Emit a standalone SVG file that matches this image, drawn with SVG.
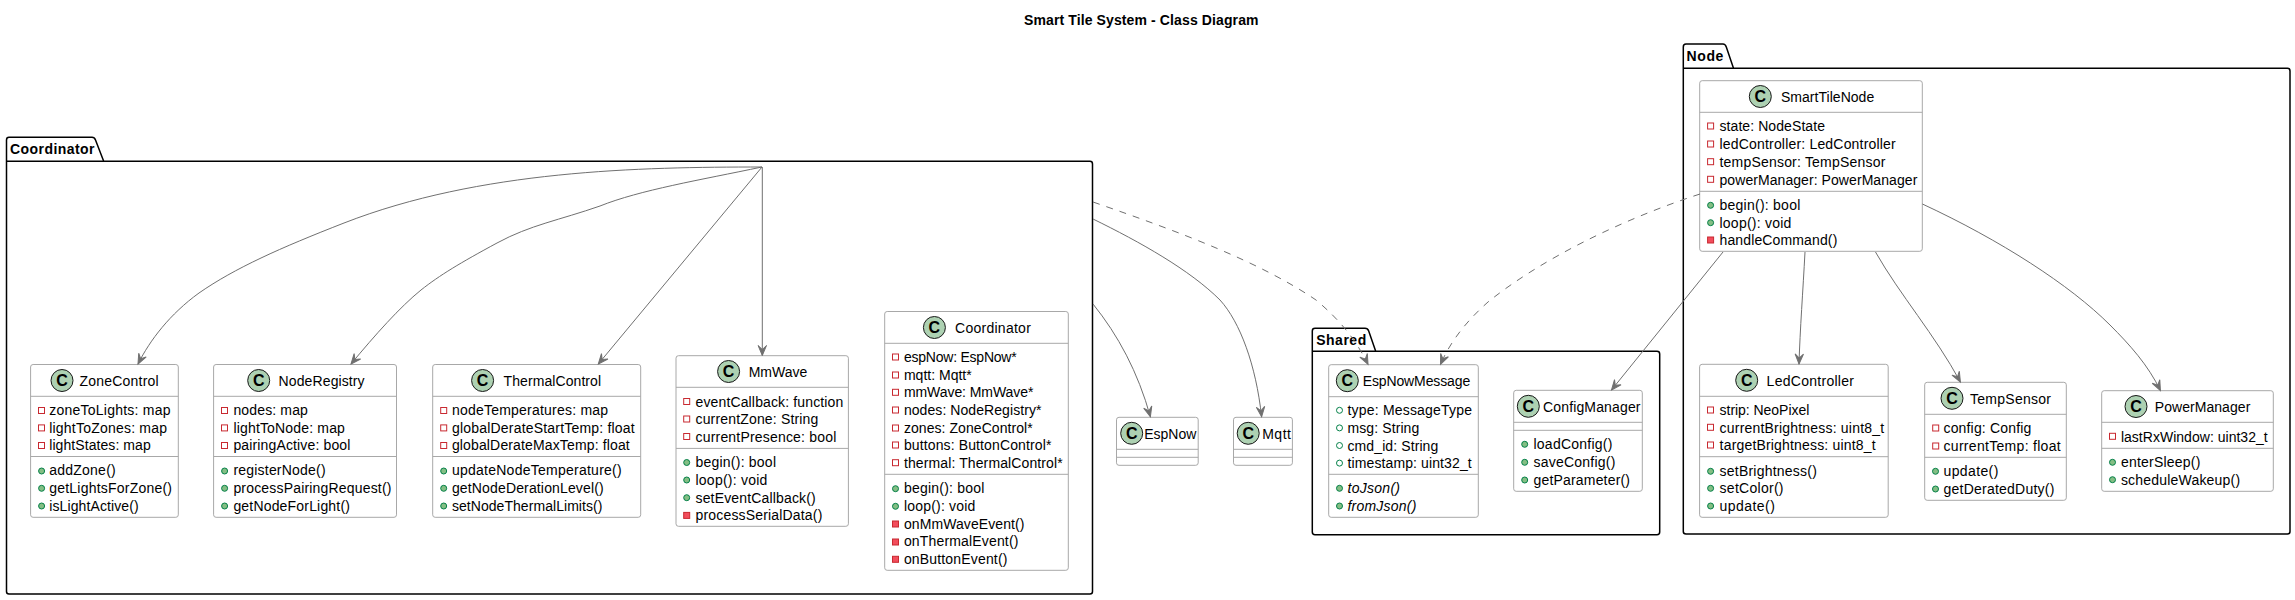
<svg xmlns="http://www.w3.org/2000/svg" width="2295" height="600" viewBox="0 0 2295 600">
<style>
text{font-family:"Liberation Sans",Arial,sans-serif;font-size:14px;fill:#000}
.b{font-weight:700}
.i{font-style:italic}
.pkg{fill:#fff;stroke:#000;stroke-width:1.5}
.box{fill:#fff;stroke:#a8a8a8;stroke-width:1}
.sep{stroke:#a8a8a8;stroke-width:1;fill:none}
.circ{fill:#add1b2;stroke:#181818;stroke-width:1}
.cl{font-weight:700;font-size:16px;text-anchor:middle}
.pa{fill:none;stroke:#c82930;stroke-width:1}
.pm{fill:#f24d5c;stroke:#c82930;stroke-width:1}
.ua{fill:none;stroke:#038048;stroke-width:1}
.um{fill:#84be84;stroke:#038048;stroke-width:1}
.c{fill:none;stroke:#707070;stroke-width:1}
.d{stroke-dasharray:7,7}
.ah{fill:#707070;stroke:#707070;stroke-width:1}
</style>
<defs>
<marker id="arr" markerUnits="userSpaceOnUse" markerWidth="24" markerHeight="16" refX="12" refY="8" orient="auto" overflow="visible"><path class="ah" d="M12,8 L2,3.8 L6,8 L2,12.2 Z"/></marker>
</defs>
<text id="title" class="b" x="1024" y="25" textLength="234.5">Smart Tile System - Class Diagram</text>

<g id="pkg-coordinator">
<path class="pkg" d="M9,137.3 H92 Q94.5,137.3 95.5,140 L103.7,161.3 H1090 Q1092.5,161.3 1092.5,164 V591.5 Q1092.5,594 1090,594 H9 Q6.5,594 6.5,591.5 V140 Q6.5,137.3 9,137.3 Z"/>
<path class="pkg" d="M6.5,161.3 H103.7"/>
<text class="b" x="10" y="154" textLength="84.5">Coordinator</text>
</g>
<g id="pkg-shared">
<path class="pkg" d="M1315,328.3 H1365 Q1367.7,328.3 1368.7,331 L1375.7,351.3 H1657 Q1659.7,351.3 1659.7,354 V532 Q1659.7,534.7 1657,534.7 H1315 Q1312.3,534.7 1312.3,532 V331 Q1312.3,328.3 1315,328.3 Z"/>
<path class="pkg" d="M1312.3,351.3 H1375.7"/>
<text class="b" x="1316.2" y="345" textLength="50">Shared</text>
</g>
<g id="pkg-node">
<path class="pkg" d="M1686,44 H1723 Q1725.3,44 1726.3,47 L1733.5,68.3 H2287.5 Q2290,68.3 2290,71 V531.5 Q2290,534 2287.5,534 H1686 Q1683.3,534 1683.3,531.5 V47 Q1683.3,44 1686,44 Z"/>
<path class="pkg" d="M1683.3,68.3 H1733.5"/>
<text class="b" x="1686.4" y="60.7" textLength="37">Node</text>
</g>

<g id="ZoneControl">
<rect class="box" x="30.6" y="364.5" width="147.7" height="152.8" rx="2.5"/>
<path class="sep" d="M30.6,396.3 H178.3 M30.6,456.5 H178.3"/>
<circle class="circ" cx="62" cy="380.5" r="11"/><text class="cl" x="62" y="386.2">C</text>
<text x="79.6" y="385.5" textLength="79">ZoneControl</text>
<rect class="pa" x="38.5" y="407.5" width="6" height="6"/><text x="49.2" y="415.3" textLength="121.3">zoneToLights: map</text>
<rect class="pa" x="38.5" y="424.9" width="6" height="6"/><text x="49.2" y="432.6" textLength="117.8">lightToZones: map</text>
<rect class="pa" x="38.5" y="442.5" width="6" height="6"/><text x="49.2" y="450" textLength="101.5">lightStates: map</text>
<circle class="um" cx="41.6" cy="471" r="3"/><text x="49.2" y="475.3" textLength="66.5">addZone()</text>
<circle class="um" cx="41.6" cy="488.3" r="3"/><text x="49.2" y="493" textLength="122.8">getLightsForZone()</text>
<circle class="um" cx="41.6" cy="506" r="3"/><text x="49.2" y="510.7" textLength="89.5">isLightActive()</text>
</g>

<g id="NodeRegistry">
<rect class="box" x="213.6" y="364.5" width="182.9" height="152.8" rx="2.5"/>
<path class="sep" d="M213.6,396.3 H396.5 M213.6,456.5 H396.5"/>
<circle class="circ" cx="258.7" cy="380.5" r="11"/><text class="cl" x="258.7" y="386.2">C</text>
<text x="278.6" y="385.5" textLength="86">NodeRegistry</text>
<rect class="pa" x="221.5" y="407.5" width="6" height="6"/><text x="233.4" y="415.3" textLength="74.5">nodes: map</text>
<rect class="pa" x="221.5" y="424.9" width="6" height="6"/><text x="233.4" y="432.6" textLength="111.5">lightToNode: map</text>
<rect class="pa" x="221.5" y="442.5" width="6" height="6"/><text x="233.4" y="450" textLength="117">pairingActive: bool</text>
<circle class="um" cx="224.6" cy="471" r="3"/><text x="233.4" y="475.3" textLength="92.2">registerNode()</text>
<circle class="um" cx="224.6" cy="488.3" r="3"/><text x="233.4" y="493" textLength="158">processPairingRequest()</text>
<circle class="um" cx="224.6" cy="506" r="3"/><text x="233.4" y="510.7" textLength="116.5">getNodeForLight()</text>
</g>

<g id="ThermalControl">
<rect class="box" x="432.7" y="364.5" width="208" height="152.8" rx="2.5"/>
<path class="sep" d="M432.7,396.3 H640.7 M432.7,456.5 H640.7"/>
<circle class="circ" cx="482.6" cy="380.5" r="11"/><text class="cl" x="482.6" y="386.2">C</text>
<text x="503.6" y="385.5" textLength="97.5">ThermalControl</text>
<rect class="pa" x="440.7" y="407.5" width="6" height="6"/><text x="451.9" y="415.3" textLength="156.2">nodeTemperatures: map</text>
<rect class="pa" x="440.7" y="424.9" width="6" height="6"/><text x="451.9" y="432.6" textLength="182.8">globalDerateStartTemp: float</text>
<rect class="pa" x="440.7" y="442.5" width="6" height="6"/><text x="451.9" y="450" textLength="177.8">globalDerateMaxTemp: float</text>
<circle class="um" cx="443.7" cy="471" r="3"/><text x="451.9" y="475.3" textLength="169.8">updateNodeTemperature()</text>
<circle class="um" cx="443.7" cy="488.3" r="3"/><text x="451.9" y="493" textLength="151.8">getNodeDerationLevel()</text>
<circle class="um" cx="443.7" cy="506" r="3"/><text x="451.9" y="510.7" textLength="150.5">setNodeThermalLimits()</text>
</g>

<g id="MmWave">
<rect class="box" x="676" y="355.7" width="172.4" height="170.6" rx="2.5"/>
<path class="sep" d="M676,387.3 H848.4 M676,448.4 H848.4"/>
<circle class="circ" cx="728.6" cy="371.5" r="11"/><text class="cl" x="728.6" y="377.2">C</text>
<text x="748.7" y="376.5" textLength="58.5">MmWave</text>
<rect class="pa" x="683.7" y="398.5" width="6" height="6"/><text x="695.5" y="406.5" textLength="147.8">eventCallback: function</text>
<rect class="pa" x="683.7" y="416" width="6" height="6"/><text x="695.5" y="424.1" textLength="122.8">currentZone: String</text>
<rect class="pa" x="683.7" y="433.5" width="6" height="6"/><text x="695.5" y="441.7" textLength="140.8">currentPresence: bool</text>
<circle class="um" cx="686.7" cy="462.5" r="3"/><text x="695.5" y="467.3" textLength="80.5">begin(): bool</text>
<circle class="um" cx="686.7" cy="480" r="3"/><text x="695.5" y="485" textLength="71.8">loop(): void</text>
<circle class="um" cx="686.7" cy="497.7" r="3"/><text x="695.5" y="502.7" textLength="120.2">setEventCallback()</text>
<rect class="pm" x="683.7" y="512.4" width="6" height="6"/><text x="695.5" y="520.4" textLength="126.8">processSerialData()</text>
</g>

<g id="Coordinator">
<rect class="box" x="884.7" y="311.5" width="183.6" height="258.8" rx="2.5"/>
<path class="sep" d="M884.7,343.3 H1068.3 M884.7,474.3 H1068.3"/>
<circle class="circ" cx="934.4" cy="327.5" r="11"/><text class="cl" x="934.4" y="333.2">C</text>
<text x="955" y="332.5" textLength="75.8">Coordinator</text>
<rect class="pa" x="892.5" y="354" width="6" height="6"/><text x="903.9" y="361.8" textLength="112.8">espNow: EspNow*</text>
<rect class="pa" x="892.5" y="372" width="6" height="6"/><text x="903.9" y="379.7" textLength="67.8">mqtt: Mqtt*</text>
<rect class="pa" x="892.5" y="389.3" width="6" height="6"/><text x="903.9" y="397.2" textLength="129.5">mmWave: MmWave*</text>
<rect class="pa" x="892.5" y="407" width="6" height="6"/><text x="903.9" y="415" textLength="137.5">nodes: NodeRegistry*</text>
<rect class="pa" x="892.5" y="425" width="6" height="6"/><text x="903.9" y="432.8" textLength="128.8">zones: ZoneControl*</text>
<rect class="pa" x="892.5" y="442" width="6" height="6"/><text x="903.9" y="450.2" textLength="147.5">buttons: ButtonControl*</text>
<rect class="pa" x="892.5" y="459.7" width="6" height="6"/><text x="903.9" y="467.8" textLength="158.8">thermal: ThermalControl*</text>
<circle class="um" cx="895.5" cy="488.7" r="3"/><text x="903.9" y="493.3" textLength="80.5">begin(): bool</text>
<circle class="um" cx="895.5" cy="506.3" r="3"/><text x="903.9" y="511" textLength="71.5">loop(): void</text>
<rect class="pm" x="892.5" y="521" width="6" height="6"/><text x="903.9" y="528.7" textLength="120.5">onMmWaveEvent()</text>
<rect class="pm" x="892.5" y="539" width="6" height="6"/><text x="903.9" y="546.4" textLength="114.5">onThermalEvent()</text>
<rect class="pm" x="892.5" y="556.3" width="6" height="6"/><text x="903.9" y="564" textLength="103.5">onButtonEvent()</text>
</g>

<g id="EspNow">
<rect class="box" x="1116.5" y="417.3" width="81.7" height="48" rx="2.5"/>
<path class="sep" d="M1116.5,449.3 H1198.2 M1116.5,457.3 H1198.2"/>
<circle class="circ" cx="1131.7" cy="433.3" r="11"/><text class="cl" x="1131.7" y="439">C</text>
<text x="1144.3" y="438.5" textLength="52">EspNow</text>
</g>

<g id="Mqtt">
<rect class="box" x="1233.5" y="417.3" width="58.9" height="48" rx="2.5"/>
<path class="sep" d="M1233.5,449.3 H1292.4 M1233.5,457.3 H1292.4"/>
<circle class="circ" cx="1248.2" cy="433.3" r="11"/><text class="cl" x="1248.2" y="439">C</text>
<text x="1262.2" y="438.5" textLength="28.7">Mqtt</text>
</g>

<g id="EspNowMessage">
<rect class="box" x="1328.7" y="364.7" width="149.6" height="152.6" rx="2.5"/>
<path class="sep" d="M1328.7,396.7 H1478.3 M1328.7,474.3 H1478.3"/>
<circle class="circ" cx="1347.3" cy="380.7" r="11"/><text class="cl" x="1347.3" y="386.4">C</text>
<text x="1362.7" y="386" textLength="107.5">EspNowMessage</text>
<circle class="ua" cx="1339.5" cy="410.3" r="3"/><text x="1347.5" y="415.3" textLength="124.5">type: MessageType</text>
<circle class="ua" cx="1339.5" cy="427.9" r="3"/><text x="1347.5" y="432.9" textLength="71.8">msg: String</text>
<circle class="ua" cx="1339.5" cy="445.5" r="3"/><text x="1347.5" y="450.5" textLength="90.8">cmd_id: String</text>
<circle class="ua" cx="1339.5" cy="463.1" r="3"/><text x="1347.5" y="468.1" textLength="124.2">timestamp: uint32_t</text>
<circle class="um" cx="1339.5" cy="488.3" r="3"/><text class="i" x="1347.5" y="493.3" textLength="52.5">toJson()</text>
<circle class="um" cx="1339.5" cy="506" r="3"/><text class="i" x="1347.5" y="511" textLength="68.8">fromJson()</text>
</g>

<g id="ConfigManager">
<rect class="box" x="1513.7" y="390.3" width="128.6" height="101" rx="2.5"/>
<path class="sep" d="M1513.7,422.3 H1642.3 M1513.7,430.3 H1642.3"/>
<circle class="circ" cx="1528.3" cy="406.3" r="11"/><text class="cl" x="1528.3" y="412">C</text>
<text x="1543" y="411.5" textLength="97.5">ConfigManager</text>
<circle class="um" cx="1524.7" cy="444.3" r="3"/><text x="1533.5" y="449.3" textLength="78.8">loadConfig()</text>
<circle class="um" cx="1524.7" cy="462.3" r="3"/><text x="1533.5" y="467.3" textLength="81.8">saveConfig()</text>
<circle class="um" cx="1524.7" cy="480" r="3"/><text x="1533.5" y="485" textLength="96.5">getParameter()</text>
</g>

<g id="SmartTileNode">
<rect class="box" x="1699.7" y="80.7" width="222.6" height="170.6" rx="2.5"/>
<path class="sep" d="M1699.7,112.3 H1922.3 M1699.7,191.3 H1922.3"/>
<circle class="circ" cx="1760.3" cy="96.5" r="11"/><text class="cl" x="1760.3" y="102.2">C</text>
<text x="1781" y="101.7" textLength="93.2">SmartTileNode</text>
<rect class="pa" x="1707.6" y="123" width="6" height="6"/><text x="1719.5" y="131.3" textLength="105.5">state: NodeState</text>
<rect class="pa" x="1707.6" y="141" width="6" height="6"/><text x="1719.5" y="149.1" textLength="176.2">ledController: LedController</text>
<rect class="pa" x="1707.6" y="158.7" width="6" height="6"/><text x="1719.5" y="166.8" textLength="165.8">tempSensor: TempSensor</text>
<rect class="pa" x="1707.6" y="176.3" width="6" height="6"/><text x="1719.5" y="184.6" textLength="197.8">powerManager: PowerManager</text>
<circle class="um" cx="1710.6" cy="205.3" r="3"/><text x="1719.5" y="210.3" textLength="80.8">begin(): bool</text>
<circle class="um" cx="1710.6" cy="222.7" r="3"/><text x="1719.5" y="227.7" textLength="71.8">loop(): void</text>
<rect class="pm" x="1707.6" y="237" width="6" height="6"/><text x="1719.5" y="245" textLength="117.8">handleCommand()</text>
</g>

<g id="LedController">
<rect class="box" x="1699.6" y="364.3" width="188.6" height="153" rx="2.5"/>
<path class="sep" d="M1699.6,396.3 H1888.2 M1699.6,456.7 H1888.2"/>
<circle class="circ" cx="1746.7" cy="380.3" r="11"/><text class="cl" x="1746.7" y="386">C</text>
<text x="1766.6" y="385.5" textLength="87.4">LedController</text>
<rect class="pa" x="1707.5" y="407" width="6" height="6"/><text x="1719.6" y="415.3" textLength="89.7">strip: NeoPixel</text>
<rect class="pa" x="1707.5" y="424.3" width="6" height="6"/><text x="1719.6" y="432.6" textLength="164.5">currentBrightness: uint8_t</text>
<rect class="pa" x="1707.5" y="442" width="6" height="6"/><text x="1719.6" y="450.2" textLength="156">targetBrightness: uint8_t</text>
<circle class="um" cx="1710.6" cy="471.3" r="3"/><text x="1719.6" y="475.7" textLength="97.2">setBrightness()</text>
<circle class="um" cx="1710.6" cy="488.3" r="3"/><text x="1719.6" y="493.3" textLength="63.9">setColor()</text>
<circle class="um" cx="1710.6" cy="506" r="3"/><text x="1719.6" y="511" textLength="55.2">update()</text>
</g>

<g id="TempSensor">
<rect class="box" x="1924.7" y="382.3" width="141.6" height="118" rx="2.5"/>
<path class="sep" d="M1924.7,414.3 H2066.3 M1924.7,457.3 H2066.3"/>
<circle class="circ" cx="1952" cy="398.3" r="11"/><text class="cl" x="1952" y="404">C</text>
<text x="1970" y="403.5" textLength="81">TempSensor</text>
<rect class="pa" x="1932.7" y="425" width="6" height="6"/><text x="1943.5" y="433.3" textLength="87.8">config: Config</text>
<rect class="pa" x="1932.7" y="443" width="6" height="6"/><text x="1943.5" y="450.8" textLength="117.2">currentTemp: float</text>
<circle class="um" cx="1935.5" cy="471.3" r="3"/><text x="1943.5" y="476.3" textLength="54.8">update()</text>
<circle class="um" cx="1935.5" cy="489" r="3"/><text x="1943.5" y="494" textLength="110.8">getDeratedDuty()</text>
</g>

<g id="PowerManager">
<rect class="box" x="2101.7" y="390.7" width="171.6" height="100.6" rx="2.5"/>
<path class="sep" d="M2101.7,422.3 H2273.3 M2101.7,448.3 H2273.3"/>
<circle class="circ" cx="2136" cy="406.5" r="11"/><text class="cl" x="2136" y="412.2">C</text>
<text x="2154.8" y="411.5" textLength="95.5">PowerManager</text>
<rect class="pa" x="2109.5" y="433.3" width="6" height="6"/><text x="2120.9" y="441.5" textLength="146.8">lastRxWindow: uint32_t</text>
<circle class="um" cx="2112.5" cy="462.3" r="3"/><text x="2120.9" y="467.3" textLength="79.5">enterSleep()</text>
<circle class="um" cx="2112.5" cy="479.7" r="3"/><text x="2120.9" y="484.7" textLength="119.2">scheduleWakeup()</text>
</g>

<g id="connectors">
<path class="c" marker-end="url(#arr)" d="M762,167 C640,167 480,170 344,223 C280,248 235,268 199,293 C170,314 150,340 138,364"/>
<path class="c" marker-end="url(#arr)" d="M762,167 C700,180 640,190 600,206 C560,220 530,225 497,243 C460,263 440,275 421,290 C400,307 375,335 351,364"/>
<path class="c" marker-end="url(#arr)" d="M762,167 L598.3,364"/>
<path class="c" marker-end="url(#arr)" d="M762.3,167 L762.3,355.5"/>
<path class="c" marker-end="url(#arr)" d="M1093,304 C1118,335 1138,372 1150.4,416.8"/>
<path class="c" marker-end="url(#arr)" d="M1093,219 C1140,242 1190,270 1220,300 C1240,322 1256,365 1261.6,416.8"/>
<path class="c d" marker-end="url(#arr)" d="M1093,202 C1180,232 1260,262 1316,300 C1340,320 1356,340 1368,364.3"/>
<path class="c d" marker-end="url(#arr)" d="M1700,194 C1620,220 1540,260 1488,302 C1470,318 1452,338 1440.5,364.3"/>
<path class="c" marker-end="url(#arr)" d="M1723,252 L1611.5,390"/>
<path class="c" marker-end="url(#arr)" d="M1805,252 C1803,290 1800,330 1799,364"/>
<path class="c" marker-end="url(#arr)" d="M1875.5,252 C1900,295 1935,335 1960.4,382"/>
<path class="c" marker-end="url(#arr)" d="M1922.4,204 C2000,240 2070,285 2110,325 C2130,345 2148,365 2160.4,390.5"/>
</g>
</svg>
